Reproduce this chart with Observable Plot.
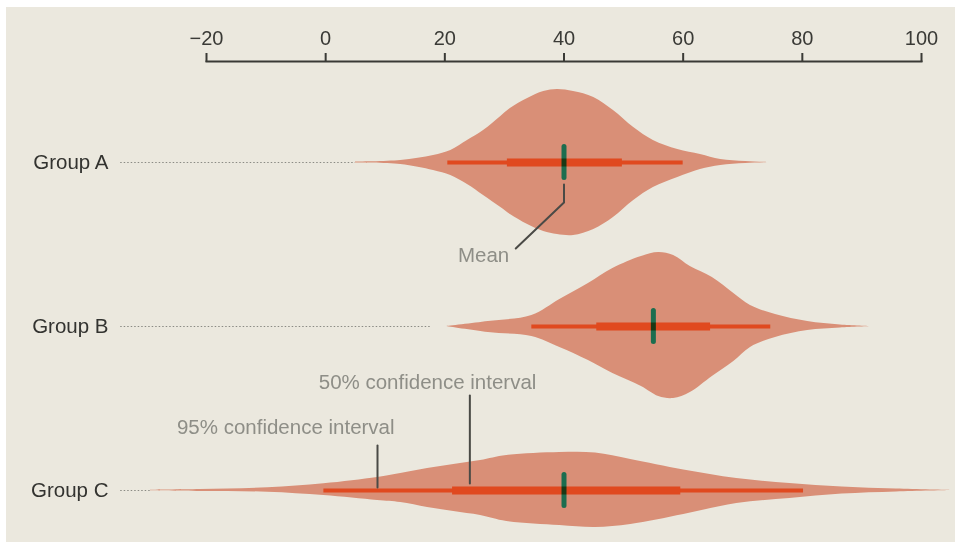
<!DOCTYPE html>
<html><head><meta charset="utf-8">
<script src="https://cdn.jsdelivr.net/npm/d3@7"></script>
<script src="https://cdn.jsdelivr.net/npm/@observablehq/plot@0.6"></script>
<style>body{margin:0;background:#fff}</style>
</head><body><div id="chart"></div>
<script>
// ---- data ----
const groups = ["Group A", "Group B", "Group C"];
const tickValues = [-20, 0, 20, 40, 60, 80, 100];
const tickLabels = ["−20", "0", "20", "40", "60", "80", "100"];

const means    = [40, 55, 40];
const ci95Low  = [20.5, 34.6, -0.3];
const ci95High = [60.0, 74.7, 80.2];
const ci50Low  = [30.5, 45.5, 21.3];
const ci50High = [49.8, 64.6, 59.6];

// dotted leader from label towards violin
const leaderStart = -34.4;
const leaderEnd = [5.0, 17.6, -29.4];

// violin profiles (x value, upper and lower density heights)
const violinAx     = [5.0, 12.6, 18.1, 21.0, 23.8, 26.5, 29.4, 31.0, 33.9, 36.6, 38.9, 41.6, 45.0, 48.3, 51.7, 55.0, 59.1, 62.9, 66.3, 70.5, 74.7];
const violinAUpper = [0.5, 2, 7, 12, 22, 32, 46, 54, 64, 71, 73, 71, 65, 52, 35, 22, 13, 8, 3, 1, 0];
const violinALower = [0.5, 2, 8, 13, 22, 33, 45, 52, 62, 69, 72, 73, 67, 55, 38, 25, 15, 7, 3, 1, 0];

const violinBx     = [20.3, 27.3, 34.6, 39.3, 44.1, 48.2, 53.0, 55.9, 58.4, 61.2, 64.9, 68.5, 71.3, 75.5, 80.9, 86.4, 91.6];
const violinBUpper = [0, 5, 11, 27, 43, 58, 70, 74, 71, 60, 49, 33, 21, 12, 5, 1.5, 0];
const violinBLower = [0, 6, 10, 21, 34, 47, 60, 70, 72, 66, 50, 35, 21, 11, 4, 1.5, 0];

const violinCx     = [-29.4, -21.0, -9.7, -0.3, 8.7, 12.6, 17.1, 21.5, 26.0, 30.4, 39.3, 45.3, 51.2, 60.1, 69.0, 77.9, 86.7, 95.8, 104.9];
const violinCUpper = [0.3, 1, 2.7, 6.7, 13, 17, 22, 26, 30, 35, 38, 37.5, 31, 20.5, 12, 7, 3.5, 1.4, 0];
const violinCLower = [0.3, 1, 1.7, 5, 10, 12, 17, 21, 25, 31, 35, 37, 34, 24, 13, 8, 3.5, 1.4, 0];

// annotations (x in data units, dy in group-spacing units)
const annoLineGroup = [0, 2, 2];
const annoLineX  = [[40, 40, 31.9], [24.2, 24.2], [8.7, 8.7]];
const annoLineDy = [[0.134, 0.244, 0.524], [-0.579, -0.043], [-0.274, -0.018]];
const annoText   = ["Mean", "50% confidence interval", "95% confidence interval"];
const annoTextGroup = [0, 2, 2];
const annoTextX  = [26.5, 17.1, -6.7];
const annoTextDy = [0.567, -0.659, -0.384];

// ---- build tables ----
const densityUnit = 1 / 164; // density height -> group spacing
const profiles = [
  [violinAx, violinAUpper, violinALower],
  [violinBx, violinBUpper, violinBLower],
  [violinCx, violinCUpper, violinCLower]
];
const violinRows = profiles.flatMap(([xs, up, lo], g) =>
  xs.map((x, i) => ({g, x, y1: g - up[i] * densityUnit, y2: g + lo[i] * densityUnit})));
const groupRows = groups.map((name, g) => ({
  g, name, mean: means[g], lo95: ci95Low[g], hi95: ci95High[g],
  lo50: ci50Low[g], hi50: ci50High[g], leaderEnd: leaderEnd[g]
}));
const annoLineRows = annoLineX.flatMap((xs, k) =>
  xs.map((x, i) => ({k, x, y: annoLineGroup[k] + annoLineDy[k][i]})));
const annoTextRows = annoText.map((t, k) => ({t, x: annoTextX[k], y: annoTextGroup[k] + annoTextDy[k]}));

const font = "'Liberation Sans', Arial, Helvetica, sans-serif";

const chart = Plot.plot({
  width: 955,
  height: 542,
  marginLeft: 206,
  marginRight: 34,
  marginTop: 61,
  marginBottom: 0,
  style: {fontFamily: font, background: "#ebe8de", overflow: "visible"},
  x: {domain: [-20, 100]},
  y: {domain: [0, 2], range: [162, 490]},
  marks: [
    Plot.frame({anchor: "top", stroke: "#3a3a36", strokeWidth: 2}),
    Plot.axisX({anchor: "top", ticks: tickValues, tickFormat: (d, i) => tickLabels[i],
      tickSize: 9, tickPadding: 8, fontSize: 20, color: "#3a3a36", strokeWidth: 2, label: null}),
    Plot.axisY({anchor: "left", ticks: [0, 1, 2], tickFormat: (d) => groups[d],
      tickSize: 0, tickPadding: 98, fontSize: 20.5, color: "#333330", label: null}),
    Plot.ruleY(groupRows, {y: "g", x1: () => leaderStart, x2: "leaderEnd",
      stroke: "#8a8a84", strokeWidth: 1.2, strokeDasharray: "1.5,2"}),
    Plot.areaY(violinRows, {x: "x", y1: "y1", y2: "y2", z: "g", fill: "#d98f77", curve: "catmull-rom"}),
    Plot.ruleY(groupRows, {y: "g", x1: "lo95", x2: "hi95", stroke: "#e0491f", strokeWidth: 4}),
    Plot.ruleY(groupRows, {y: "g", x1: "lo50", x2: "hi50", stroke: "#e0491f", strokeWidth: 8}),
    Plot.ruleX(groupRows, {x: "mean", y1: (d) => d.g - 0.095, y2: (d) => d.g + 0.095,
      stroke: "#20c3a8", strokeWidth: 5, strokeLinecap: "round", mixBlendMode: "multiply"}),
    Plot.line(annoLineRows, {x: "x", y: "y", z: "k", stroke: "#4a4a46", strokeWidth: 2, curve: "linear"}),
    Plot.text(annoTextRows, {x: "x", y: "y", text: "t", fill: "#8e8e87", fontSize: 20.5, textAnchor: "middle"})
  ]
});
chart.style.background = "linear-gradient(to bottom, #fff 0 7px, transparent 7px), linear-gradient(to right, #fff 0 6px, #ebe8de 6px)";
document.getElementById("chart").appendChild(chart);
</script>
</body></html>
